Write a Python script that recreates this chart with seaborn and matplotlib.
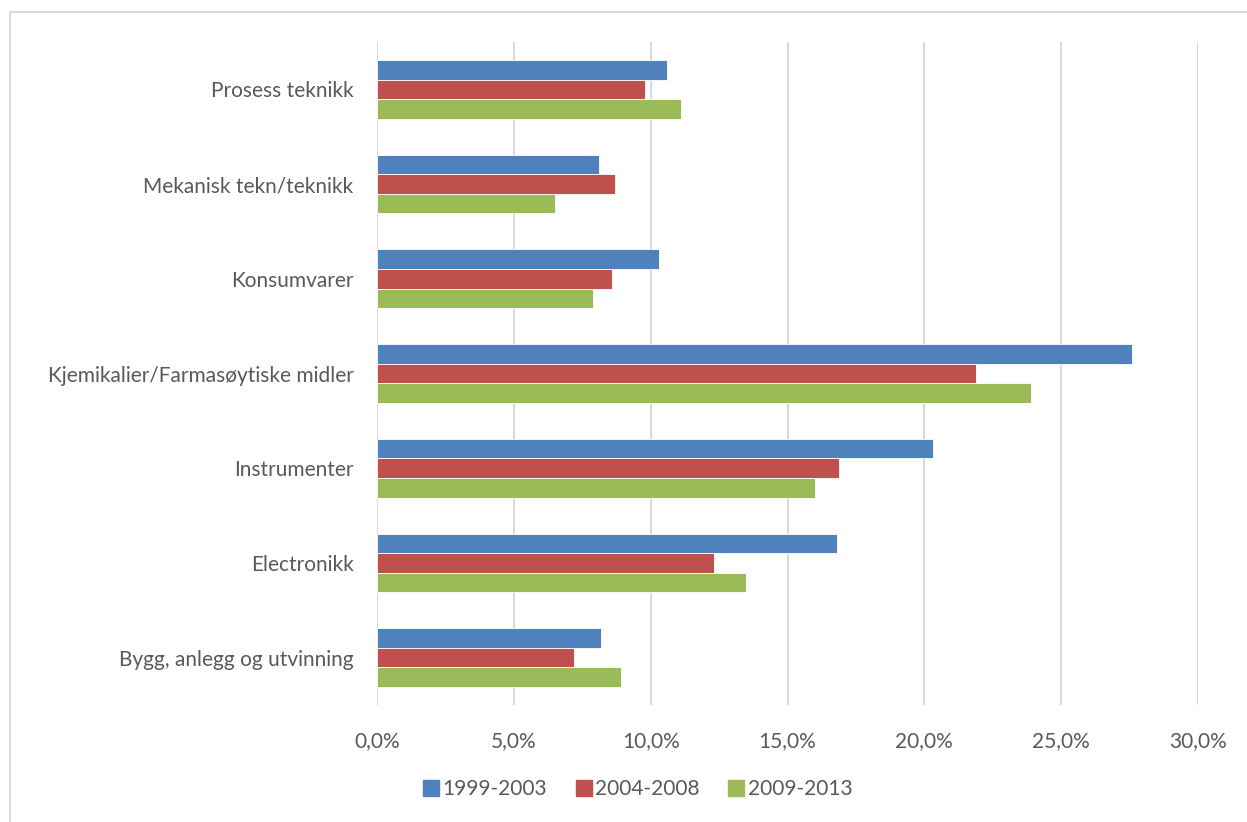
import matplotlib
matplotlib.use("Agg")
import matplotlib.pyplot as plt
from matplotlib.lines import Line2D
from matplotlib.ticker import FuncFormatter
import seaborn as sns
import pandas as pd

# Share of patents by technology area, per period (percent)
categories = [
    "Prosess teknikk",
    "Mekanisk tekn/teknikk",
    "Konsumvarer",
    "Kjemikalier/Farmasøytiske midler",
    "Instrumenter",
    "Electronikk",
    "Bygg, anlegg og utvinning",
]
periods = ["1999-2003", "2004-2008", "2009-2013"]
share_1999_2003 = [10.6, 8.1, 10.3, 27.6, 20.3, 16.8, 8.2]
share_2004_2008 = [9.8, 8.7, 8.6, 21.9, 16.9, 12.3, 7.2]
share_2009_2013 = [11.1, 6.5, 7.9, 23.9, 16.0, 13.5, 8.9]
x_ticks = [0, 5, 10, 15, 20, 25, 30]

colors = ["#4F81BD", "#C0504D", "#9BBB59"]

df = pd.DataFrame({
    "kategori": categories * 3,
    "periode": [p for p in periods for _ in categories],
    "andel": share_1999_2003 + share_2004_2008 + share_2009_2013,
})

sns.set_theme(style="white")
plt.rcParams["font.family"] = ["Lato", "DejaVu Sans"]

W, H = 1247, 822
fig = plt.figure(figsize=(W / 100, H / 100), dpi=100)
ax = fig.add_axes([377 / W, 1 - 705 / H, (1198 - 377) / W, (705 - 42) / H])

sns.barplot(
    data=df, y="kategori", x="andel", hue="periode", order=categories,
    hue_order=periods, palette=colors, orient="h", width=0.62,
    saturation=1, edgecolor="white", linewidth=0.6, ax=ax, legend=False,
)

ax.set_xlim(0, 30)
ax.set_ylim(6.5, -0.5)
ax.set_xticks(x_ticks)
ax.xaxis.set_major_formatter(FuncFormatter(lambda v, _: f"{v:.1f}%".replace(".", ",")))
ax.grid(axis="x", color="#D9D9D9", linewidth=1.5)
ax.set_axisbelow(True)
for s in ax.spines.values():
    s.set_visible(False)
ax.set_xlabel("")
ax.set_ylabel("")
ax.tick_params(axis="x", length=0, pad=19, labelsize=15, labelcolor="#595959")
ax.tick_params(axis="y", length=0, pad=17, labelsize=15, labelcolor="#595959")

# Legend below the plot area
handles = [Line2D([], [], marker="s", linestyle="none", markersize=12,
                  markerfacecolor=c, markeredgecolor=c) for c in colors]
fig.legend(handles, periods, loc="center", bbox_to_anchor=(637 / W, 1 - 789 / H),
           ncol=3, frameon=False, fontsize=15, labelcolor="#595959",
           handletextpad=0.1, columnspacing=1.3, handlelength=0.9)

# Chart-area border (top and left edges)
fig.add_artist(Line2D([10 / W, 10 / W], [0, 1 - 12 / H], transform=fig.transFigure,
                      color="#D9D9D9", linewidth=1.5))
fig.add_artist(Line2D([10 / W, 1], [1 - 12 / H, 1 - 12 / H], transform=fig.transFigure,
                      color="#D9D9D9", linewidth=1.5))

fig.savefig("out.png", dpi=100, facecolor="white")
